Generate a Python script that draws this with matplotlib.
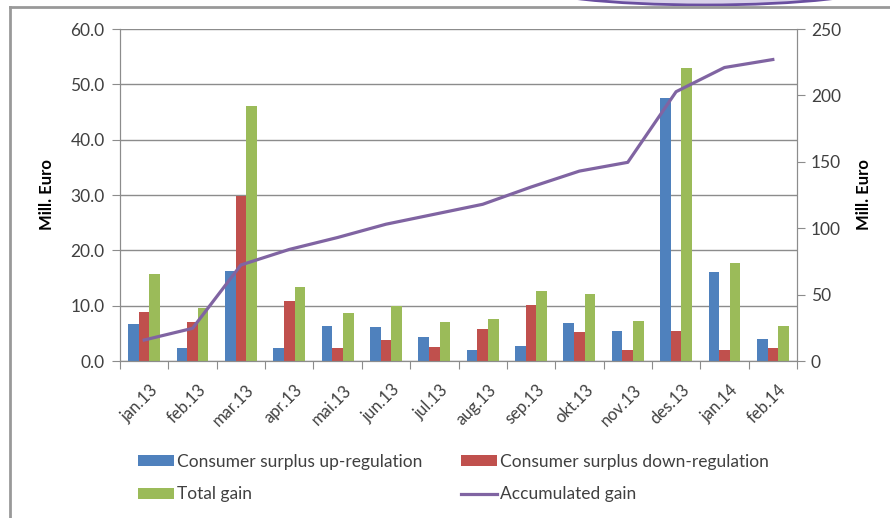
import numpy as np
import matplotlib
matplotlib.use("Agg")
import matplotlib.pyplot as plt
from matplotlib.lines import Line2D
from matplotlib.patches import Ellipse
import matplotlib.transforms as mtransforms

plt.rcParams['font.family'] = ['Lato', 'DejaVu Sans']

# Data
months = ['jan.13', 'feb.13', 'mar.13', 'apr.13', 'mai.13', 'jun.13', 'jul.13',
          'aug.13', 'sep.13', 'okt.13', 'nov.13', 'des.13', 'jan.14', 'feb.14']
up_reg = [6.6, 2.4, 16.3, 2.4, 6.3, 6.1, 4.4, 1.9, 2.7, 6.9, 5.4, 47.5, 16.0, 3.9]
down_reg = [8.9, 7.0, 29.8, 10.8, 2.4, 3.8, 2.6, 5.7, 10.1, 5.2, 1.9, 5.4, 1.9, 2.3]
total_gain = [15.7, 9.6, 46.1, 13.3, 8.6, 9.9, 7.1, 7.6, 12.6, 12.1, 7.3, 53.0, 17.8, 6.4]
accumulated = [15.8, 24.6, 72.3, 84.0, 93.0, 103.0, 110.5, 118.0, 131.0, 143.0, 149.6, 202.8, 221.0, 227.0]

blue = '#4F81BD'
red = '#C0504D'
green = '#9BBB59'
purple = '#8064A2'
gray = '#8c8c8c'
text_col = '#404040'

fig = plt.figure(figsize=(8.9, 5.18), dpi=100)
ax = fig.add_axes([120 / 890, 157 / 518, 677 / 890, 332 / 518])
ax2 = ax.twinx()

x = np.arange(len(months))
w = 0.22
b1 = ax.bar(x - w, up_reg, w, color=blue, zorder=2)
b2 = ax.bar(x, down_reg, w, color=red, zorder=2)
b3 = ax.bar(x + w, total_gain, w, color=green, zorder=2)
ln, = ax2.plot(x, accumulated, color=purple, lw=2.3)

ax.set_xlim(-0.5, len(months) - 0.5)
ax.set_ylim(0, 60)
ax2.set_ylim(0, 250)

ax.set_yticks(np.arange(0, 61, 10))
ax.set_yticklabels([f'{v:.1f}' for v in np.arange(0, 61, 10)])
ax2.set_yticks(np.arange(0, 251, 50))
ax.yaxis.grid(True, color=gray, lw=1)
ax.set_axisbelow(True)

# category boundary ticks and centred labels
ax.set_xticks(np.arange(-0.5, len(months), 1.0))
ax.set_xticklabels([])
ax.set_xticks(x, minor=True)
ax.set_xticklabels(months, minor=True, rotation=45, ha='right',
                   rotation_mode='anchor', va='center')
ax.tick_params(axis='x', which='minor', length=0, pad=19, labelsize=12, labelcolor=text_col)
ax.tick_params(axis='x', which='major', length=6, color=gray, direction='out')
offset = mtransforms.ScaledTranslation(11 / 100, 0, fig.dpi_scale_trans)
for lab in ax.get_xticklabels(minor=True):
    lab.set_transform(lab.get_transform() + offset)

ax.tick_params(axis='y', length=6, color=gray, labelsize=12.5, labelcolor=text_col, pad=5)
ax2.tick_params(axis='y', length=6, color=gray, labelsize=12.5, labelcolor=text_col, pad=4)

for a in (ax, ax2):
    a.spines['top'].set_visible(False)
    for s in ('left', 'right', 'bottom'):
        a.spines[s].set_color(gray)

ax.set_ylabel('Mill. Euro', fontsize=12, fontweight='bold', color='black', labelpad=11)
ax2.set_ylabel('Mill. Euro', fontsize=12, fontweight='bold', color='black',
               rotation=90, labelpad=11)

handles = [b1, b3, b2, ln]
labels = ['Consumer surplus up-regulation', 'Total gain',
          'Consumer surplus down-regulation', 'Accumulated gain']
fig.legend(handles, labels, ncol=2, loc='upper left', bbox_to_anchor=(138 / 890, 1 - 454 / 518),
           frameon=False, fontsize=12.5, handlelength=2.1, handleheight=0.6,
           handletextpad=0.15, columnspacing=2.2, labelspacing=0.95, labelcolor=text_col,
           borderpad=0, borderaxespad=0)

# outer frame and decoration at the top
fig.add_artist(Line2D([10 / 890, 1], [1 - 7 / 518, 1 - 7 / 518], color='#999999', lw=2,
                      transform=fig.transFigure))
fig.add_artist(Line2D([10 / 890, 10 / 890], [0, 1 - 7 / 518], color='#999999', lw=2,
                      transform=fig.transFigure))
fig.add_artist(Ellipse((705 / 890, 1 + 15 / 518), 348 / 890, 40 / 518,
                       facecolor='#d9d2ea', edgecolor='#6a4fa0', lw=2,
                       transform=fig.transFigure))

fig.savefig('out.png', dpi=100)
